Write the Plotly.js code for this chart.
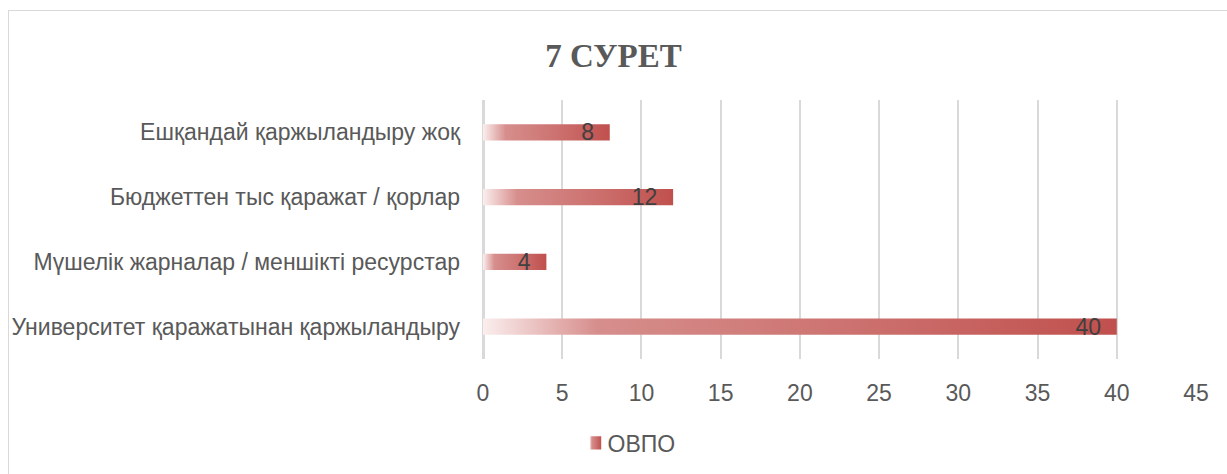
<!DOCTYPE html>
<html>
<head>
<meta charset="utf-8">
<script src="https://cdn.plot.ly/plotly-3.0.1.min.js"></script>
<style>
html,body{margin:0;padding:0;background:#fff;}
#chart{width:1227px;height:474px;position:absolute;left:0;top:0;}
#frame{position:absolute;left:8px;top:10px;width:1240px;height:480px;border:1px solid #d9d9d9;pointer-events:none;}
</style>
</head>
<body>
<div id="chart"></div>
<div id="frame"></div>
<script>
const categories = [
  'Университет қаражатынан қаржыландыру',
  'Мүшелік жарналар / меншікті ресурстар',
  'Бюджеттен тыс қаражат / қорлар',
  'Ешқандай қаржыландыру жоқ'
];
const values = [40, 4, 12, 8];
const seriesName = 'ОВПО';
const xTicks = [0, 5, 10, 15, 20, 25, 30, 35, 40, 45];

const FONT = 'Liberation Sans, Arial, sans-serif';

const trace = {
  type: 'bar',
  orientation: 'h',
  y: categories,
  x: values,
  name: seriesName,
  text: values.map(v => String(v) + '\u00a0\u00a0'),
  textposition: 'inside',
  insidetextanchor: 'end',
  textangle: 0,
  constraintext: 'none',
  cliponaxis: false,
  textfont: {family: FONT, size: 23, color: '#404040'},
  marker: {color: '#c0504d'},
  showlegend: true,
  hoverinfo: 'none'
};

const layout = {
  width: 1227, height: 474,
  margin: {l: 483, r: 31, t: 100, b: 115},
  paper_bgcolor: '#ffffff',
  plot_bgcolor: '#ffffff',
  bargap: 0.75,
  title: {
    text: '<b>7 СУРЕТ</b>',
    font: {family: 'Liberation Serif, Times New Roman, serif', size: 33, color: '#595959'},
    x: 0.5, xref: 'container', xanchor: 'center',
    y: 1 - 55/474, yref: 'container', yanchor: 'middle'
  },
  xaxis: {
    range: [0, 45],
    tickvals: xTicks,
    ticktext: xTicks.map(String),
    showgrid: true, gridcolor: '#d9d9d9', gridwidth: 2,
    zeroline: true, zerolinecolor: '#d9d9d9', zerolinewidth: 3,
    showline: false, ticks: '',
    ticklabelstandoff: 18,
    tickfont: {family: FONT, size: 23, color: '#595959'},
    fixedrange: true
  },
  yaxis: {
    showgrid: false, zeroline: false, showline: false, ticks: '',
    ticklabelstandoff: 22,
    tickfont: {family: FONT, size: 23, color: '#595959'},
    fixedrange: true
  },
  showlegend: true,
  legend: {
    orientation: 'h',
    x: 624/1227, xref: 'container', xanchor: 'center',
    y: 1 - 443/474, yref: 'container', yanchor: 'middle',
    font: {family: FONT, size: 23, color: '#595959'},
    itemwidth: 30
  }
};

function applyGradient(gd) {
  const svg = gd.querySelector('svg.main-svg');
  if (!svg) return;
  const ns = 'http://www.w3.org/2000/svg';
  if (!document.getElementById('barGrad')) {
    const defs = document.createElementNS(ns, 'defs');
    const g = document.createElementNS(ns, 'linearGradient');
    g.setAttribute('id', 'barGrad');
    g.setAttribute('x1', '0'); g.setAttribute('y1', '0');
    g.setAttribute('x2', '1'); g.setAttribute('y2', '0');
    const stops = [[0, '#fbeeee'], [0.18, '#d68e8c'], [0.55, '#cd7472'], [1, '#c0504d']];
    stops.forEach(s => {
      const st = document.createElementNS(ns, 'stop');
      st.setAttribute('offset', String(s[0]));
      st.setAttribute('stop-color', s[1]);
      g.appendChild(st);
    });
    defs.appendChild(g);
    svg.appendChild(defs);
  }
  gd.querySelectorAll('.barlayer path, .legendpoints path').forEach(p => {
    p.style.setProperty('fill', 'url(#barGrad)', 'important');
  });
  gd.querySelectorAll('.legendpoints path').forEach(p => {
    p.setAttribute('transform', 'translate(28,0) scale(0.95,1.1)');
  });
}

const gd = document.getElementById('chart');
Plotly.newPlot(gd, [trace], layout, {displayModeBar: false, staticPlot: true});
try { applyGradient(gd); } catch (e) { console.error(e); }
Promise.resolve().then(() => applyGradient(gd));
setTimeout(() => applyGradient(gd), 0);
setTimeout(() => applyGradient(gd), 100);
</script>
</body>
</html>
